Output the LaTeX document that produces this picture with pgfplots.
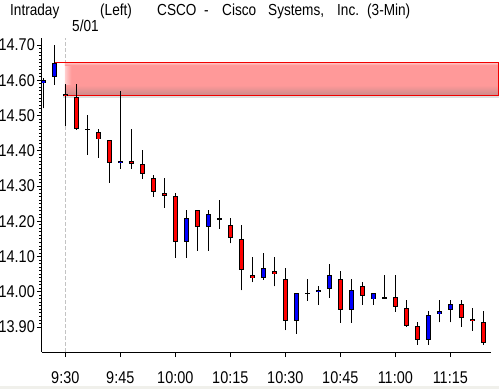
\documentclass[border=0pt]{standalone}
\usepackage{fontspec}
\setmainfont{Liberation Sans}[FakeStretch=0.85]
\usepackage{pgfplots}
\pgfplotsset{compat=1.18}
\usepackage{pgfplotstable}

\definecolor{cred}{RGB}{255,0,0}
\definecolor{cblue}{RGB}{0,0,255}
\definecolor{band}{RGB}{255,153,153}
\definecolor{bandlight}{RGB}{255,205,205}
\definecolor{bandshade}{RGB}{200,138,138}
\definecolor{bandline}{RGB}{240,0,0}
\definecolor{shadow}{RGB}{222,222,222}
\definecolor{dashc}{RGB}{195,195,195}
\definecolor{winbg}{RGB}{240,240,235}

% wicks: index, high, low
\pgfplotstableread{
i hi lo
-2 14.607 14.520
-1 14.700 14.587
0 14.589 14.471
1 14.589 14.459
2 14.501 14.388
3 14.462 14.380
4 14.430 14.309
5 14.570 14.349
6 14.462 14.349
7 14.402 14.321
8 14.331 14.270
9 14.323 14.238
10 14.279 14.097
11 14.231 14.097
12 14.231 14.116
13 14.231 14.116
14 14.260 14.179
15 14.208 14.137
16 14.189 14.004
17 14.098 14.027
18 14.109 14.034
19 14.098 14.015
20 14.067 13.891
21 13.996 13.881
22 14.035 13.975
23 14.015 13.963
24 14.079 13.983
25 14.058 13.912
26 14.035 13.912
27 14.027 13.963
28 13.996 13.963
29 14.047 13.983
30 14.048 13.943
31 13.976 13.901
32 13.913 13.850
33 13.944 13.850
34 13.976 13.913
35 13.976 13.913
36 13.976 13.901
37 13.953 13.890
38 13.944 13.850
}\wicks

% red (falling) bodies: index, top, bottom
\pgfplotstableread{
i top bot
0 14.562 14.555
1 14.552 14.463
2 14.4625 14.4595
3 14.452 14.432
4 14.430 14.364
6 14.371 14.363
7 14.362 14.333
8 14.322 14.282
9 14.280 14.273
10 14.271 14.140
12 14.231 14.183
14 14.208 14.203
15 14.189 14.152
16 14.149 14.061
17 14.047 14.038
19 14.058 14.050
20 14.035 13.916
22 13.9975 13.9945
25 14.035 13.947
27 14.015 13.987
29 13.9845 13.9815
30 13.984 13.956
31 13.953 13.904
32 13.902 13.862
36 13.964 13.925
37 13.922 13.916
38 13.913 13.854
}\redbodies

% blue (rising) bodies: index, top, bottom
\pgfplotstableread{
i top bot
-2 14.600 14.591
-1 14.648 14.610
5 14.371 14.364
11 14.208 14.140
13 14.220 14.183
18 14.067 14.038
21 13.996 13.916
23 14.004 13.998
24 14.047 14.007
26 14.004 13.947
28 13.996 13.978
33 13.933 13.862
34 13.944 13.936
35 13.964 13.947
}\bluebodies

\pgfplotsset{
  candlebar/.style={only marks, mark=*, mark size=0pt,
    mark options={draw=none, fill=none},
    error bars/.cd, y dir=both, y explicit, error mark=none},
}

\begin{document}
\begin{tikzpicture}[x=1pt,y=1pt]
\useasboundingbox (0,0) rectangle (499,389);
\fill[winbg] (0,0) rectangle (499,3);
\begin{axis}[
  at={(42pt,37pt)}, anchor=south west,
  scale only axis, width=449pt, height=314pt,
  xmin=-2.118, xmax=38.70, ymin=13.829, ymax=14.72,
  clip=false,
  axis lines*=left,
  axis line style={black, line width=1pt},
  tick align=outside,
  tick style={black, line width=0.8pt},
  major tick length=5pt,
  minor tick length=2.5pt,
  xtick={0,5,10,15,20,25,30,35},
  xticklabels={9:30,9:45,10:00,10:15,10:30,10:45,11:00,11:15},
  ytick={13.9,14.0,14.1,14.2,14.3,14.4,14.5,14.6,14.7},
  yticklabels={13.90,14.00,14.10,14.20,14.30,14.40,14.50,14.60,14.70},
  minor y tick num=9,
  tick label style={font=\fontsize{17}{20}\selectfont},
  yticklabel style={inner sep=0pt, xshift=-2pt},
  xticklabel style={inner sep=0pt, anchor=base, yshift=-26pt},
]
% session start marker
\addplot[dashc, line width=1pt, dash pattern=on 4pt off 2pt] coordinates {(0,13.829) (0,14.72)};
% resistance band
\addplot[fill=band, draw=none] coordinates {(-0.03,14.556) (39.4,14.556) (39.4,14.651) (-0.03,14.651)} -- cycle;
\addplot[draw=none, left color=bandlight, right color=band] coordinates {(-0.03,14.556) (0.55,14.556) (0.55,14.651) (-0.03,14.651)} -- cycle;
\addplot[draw=none, top color=bandlight, bottom color=band] coordinates {(-0.03,14.643) (39.4,14.643) (39.4,14.651) (-0.03,14.651)} -- cycle;
\addplot[draw=none, bottom color=bandshade, top color=band] coordinates {(-0.03,14.556) (39.4,14.556) (39.4,14.586) (-0.03,14.586)} -- cycle;
\addplot[draw=none, fill=shadow] coordinates {(-0.2,14.549) (39.4,14.549) (39.4,14.554) (-0.2,14.554)} -- cycle;
\addplot[bandline, line width=1pt] coordinates {(-1.03,14.651) (39.4,14.651) (39.4,14.556) (-0.2,14.556)};
% wicks
\addplot[black, candlebar, error bar style={black, line width=1.1pt}]
  table[x=i, y=lo, y error plus expr=\thisrow{hi}-\thisrow{lo}, y error minus expr=0] {\wicks};
% body outlines
\addplot[black, candlebar, error bar style={black, line width=5pt}]
  table[x=i, y expr=(\thisrow{top}+\thisrow{bot})/2, y error expr=(\thisrow{top}-\thisrow{bot})/2] {\redbodies};
\addplot[black, candlebar, error bar style={black, line width=5pt}]
  table[x=i, y expr=(\thisrow{top}+\thisrow{bot})/2, y error expr=(\thisrow{top}-\thisrow{bot})/2] {\bluebodies};
% body fills
\addplot[cred, candlebar, error bar style={cred, line width=3pt}]
  table[x=i, y expr=(\thisrow{top}+\thisrow{bot})/2, y error expr={max((\thisrow{top}-\thisrow{bot})/2-0.0028,0)}] {\redbodies};
\addplot[cblue, candlebar, error bar style={cblue, line width=3pt}]
  table[x=i, y expr=(\thisrow{top}+\thisrow{bot})/2, y error expr={max((\thisrow{top}-\thisrow{bot})/2-0.0028,0)}] {\bluebodies};
\end{axis}
\begin{scope}[every node/.style={anchor=base west, inner sep=0pt, font=\fontsize{16}{19}\selectfont}]
\node at (10,373) {Intraday};
\node at (100,373) {(Left)};
\node at (157,373) {CSCO};
\node at (204,373) {-};
\node at (222,373) {Cisco};
\node at (268,373) {Systems,};
\node at (337,373) {Inc.};
\node at (367,373) {(3-Min)};
\node at (72,357) {5/01};
\end{scope}
\end{tikzpicture}
\end{document}
